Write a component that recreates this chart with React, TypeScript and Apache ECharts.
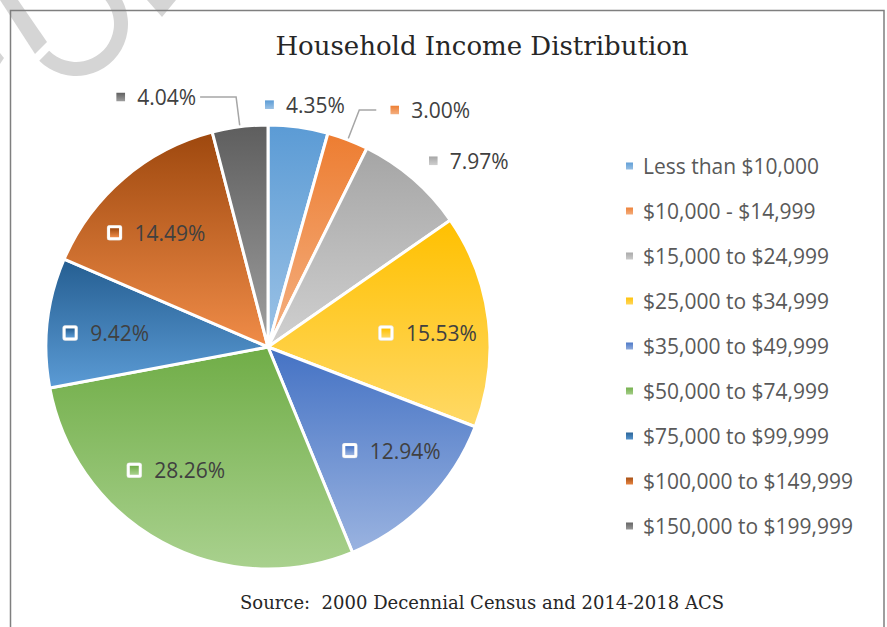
import React, { useEffect, useRef } from 'react';
import * as echarts from 'echarts';

const categories = [
  'Less than $10,000',
  '$10,000 - $14,999',
  '$15,000 to $24,999',
  '$25,000 to $34,999',
  '$35,000 to $49,999',
  '$50,000 to $74,999',
  '$75,000 to $99,999',
  '$100,000 to $149,999',
  '$150,000 to $199,999',
];
const shares = [4.35, 3.0, 7.97, 15.53, 12.94, 28.26, 9.42, 14.49, 4.04];
const topColors = ['#5B9BD5', '#ED7D31', '#A5A5A5', '#FFC000', '#4472C4', '#70AD47', '#255E91', '#9E480E', '#5E5E5E'];
const bottomColors = ['#9DC3E6', '#F4B183', '#D0D0D0', '#FFD966', '#9AB3E0', '#A9D18E', '#5B9BD5', '#F08C48', '#A0A0A0'];

const titleText = 'Household Income Distribution';
const sourceText = 'Source:  2000 Decennial Census and 2014-2018 ACS';

// layout constants: pie centre/radius, inside-label placement as [radius, angle shift in degrees]
const CX = 268;
const CY = 347;
const R = 222;
const INSIDE_LABEL: Record<number, [number, number]> = {
  3: [160, 1.9],
  4: [161, -4.3],
  5: [154, 8.3],
  6: [163, -1.4],
  7: [160, -3.8],
};
const SANS = '"Open Sans", "Noto Sans", sans-serif';
const SERIF = '"DejaVu Serif", "Liberation Serif", serif';

function iconUrl(i: number, boxed: boolean) {
  const gid = 'g' + i;
  const grad = `<defs><linearGradient id="${gid}" x1="0" y1="0" x2="0" y2="1"><stop offset="0" stop-color="${topColors[i]}"/><stop offset="1" stop-color="${bottomColors[i]}"/></linearGradient></defs>`;
  const svg = boxed
    ? `<svg xmlns="http://www.w3.org/2000/svg" width="16" height="16" viewBox="0 0 16 16">${grad}<rect x="0.5" y="0.5" width="15" height="15" rx="2.5" fill="#ffffff" stroke="#e0e0e0" stroke-width="0.5"/><rect x="3.5" y="3.5" width="9" height="9" fill="url(#${gid})"/></svg>`
    : `<svg xmlns="http://www.w3.org/2000/svg" width="9" height="9" viewBox="0 0 9 9">${grad}<rect x="0" y="0" width="9" height="9" fill="url(#${gid})"/></svg>`;
  return 'data:image/svg+xml;charset=utf-8,' + encodeURIComponent(svg);
}

export default function App() {
  const ref = useRef<HTMLDivElement>(null);
  useEffect(() => {
    if (!ref.current) return;
    const chart = echarts.init(ref.current, null, { renderer: 'svg' });

    const grad = (i: number) =>
      new echarts.graphic.LinearGradient(0, 0, 0, 1, [
        { offset: 0, color: topColors[i] },
        { offset: 1, color: bottomColors[i] },
      ]);

    const rich: Record<string, any> = {
      v: { fontFamily: SANS, fontSize: 21, color: '#404040', padding: [0, 0, 0, 12] },
    };
    categories.forEach((_, i) => {
      rich['b' + i] = { width: 16, height: 16, backgroundColor: { image: iconUrl(i, true) } };
      rich['s' + i] = { width: 9, height: 9, backgroundColor: { image: iconUrl(i, false) } };
    });

    const outsideCfg: Record<number, any> = {
      0: { show: false, length: 12, length2: 0, dist: 5 },
      1: { show: true, length: 32, length2: 17, dist: 14 },
      2: { show: false, length: 24, length2: 0, dist: 0 },
      8: { show: true, length: 30, length2: 36, dist: 4 },
    };

    const data = categories.map((name, i) => {
      const inside = INSIDE_LABEL[i] != null;
      const oc = outsideCfg[i];
      return {
        name,
        value: shares[i],
        itemStyle: { color: grad(i) },
        label: {
          position: inside ? 'inside' : 'outside',
          distanceToLabelLine: inside ? 5 : oc.dist,
          formatter: (p: any) =>
            `{${inside ? 'b' : 's'}${i}|}{v|${p.value.toFixed(2)}%}`,
        },
        labelLine: inside
          ? { show: false }
          : {
              show: oc.show,
              length: oc.length,
              length2: oc.length2,
              lineStyle: { color: '#A6A6A6', width: 1.5 },
            },
      };
    });

    const wm = '#d5d5d5';

    chart.setOption({
      animation: false,
      backgroundColor: '#ffffff',
      legend: {
        orient: 'vertical',
        left: 624,
        top: 154,
        padding: 0,
        itemWidth: 9,
        itemHeight: 9,
        itemGap: 21,
        icon: 'rect',
        data: categories,
        textStyle: {
          fontFamily: SANS,
          fontSize: 21,
          lineHeight: 24,
          color: '#595959',
          padding: [0, 0, 0, 4],
        },
        selectedMode: false,
      },
      graphic: [
        {
          type: 'sector',
          shape: { cx: 76, cy: 24, r0: 38, r: 52, startAngle: -Math.PI / 2, endAngle: (135 * Math.PI) / 180, clockwise: true },
          style: { fill: wm },
          z: 0,
        },
        { type: 'polygon', shape: { points: [[0, 0], [18, 0], [47, 42], [35, 54]] }, style: { fill: wm }, z: 0 },
        { type: 'polygon', shape: { points: [[0, 53], [4, 58], [0, 64]] }, style: { fill: wm }, z: 0 },
        { type: 'polygon', shape: { points: [[147, 0], [176, 0], [162, 17]] }, style: { fill: wm }, z: 0 },
        {
          type: 'rect',
          shape: { x: 10.5, y: 10.5, width: 873.5, height: 700 },
          style: { fill: 'none', stroke: '#7f7f7f', lineWidth: 1.5 },
          z: 1,
        },
        {
          type: 'text',
          x: 482,
          y: 46,
          style: {
            text: titleText,
            fontFamily: SERIF,
            fontSize: 26,
            fill: '#262626',
            textAlign: 'center',
            textVerticalAlign: 'middle',
          },
          z: 1,
        },
        {
          type: 'text',
          x: 482,
          y: 602,
          style: {
            text: sourceText,
            fontFamily: SERIF,
            fontSize: 18,
            fill: '#262626',
            textAlign: 'center',
            textVerticalAlign: 'middle',
          },
          z: 1,
        },
      ],
      series: [
        {
          type: 'pie',
          center: [CX, CY],
          radius: [0, R],
          startAngle: 90,
          clockwise: true,
          avoidLabelOverlap: false,
          itemStyle: { borderColor: '#ffffff', borderWidth: 3 },
          label: { show: true, rich },
          emphasis: { disabled: true },
          labelLayout: (p: any) => {
            if (p.dataIndex === 0) return { align: 'center', verticalAlign: 'bottom' };
            const cfg = INSIDE_LABEL[p.dataIndex];
            if (!cfg) return {};
            const [rr, shift] = cfg;
            const r = p.labelRect;
            const lx = r.x + r.width / 2;
            const ly = r.y + r.height / 2;
            const ang = Math.atan2(lx - CX, -(ly - CY)) + (shift * Math.PI) / 180;
            const nx = CX + rr * Math.sin(ang);
            const ny = CY - rr * Math.cos(ang);
            return { dx: nx - lx, dy: ny - ly };
          },
          data,
        },
      ],
    });
    return () => chart.dispose();
  }, []);
  return (
    <div
      ref={ref}
      style={{ position: 'fixed', left: 0, top: 0, width: 887, height: 627 }}
    />
  );
}
